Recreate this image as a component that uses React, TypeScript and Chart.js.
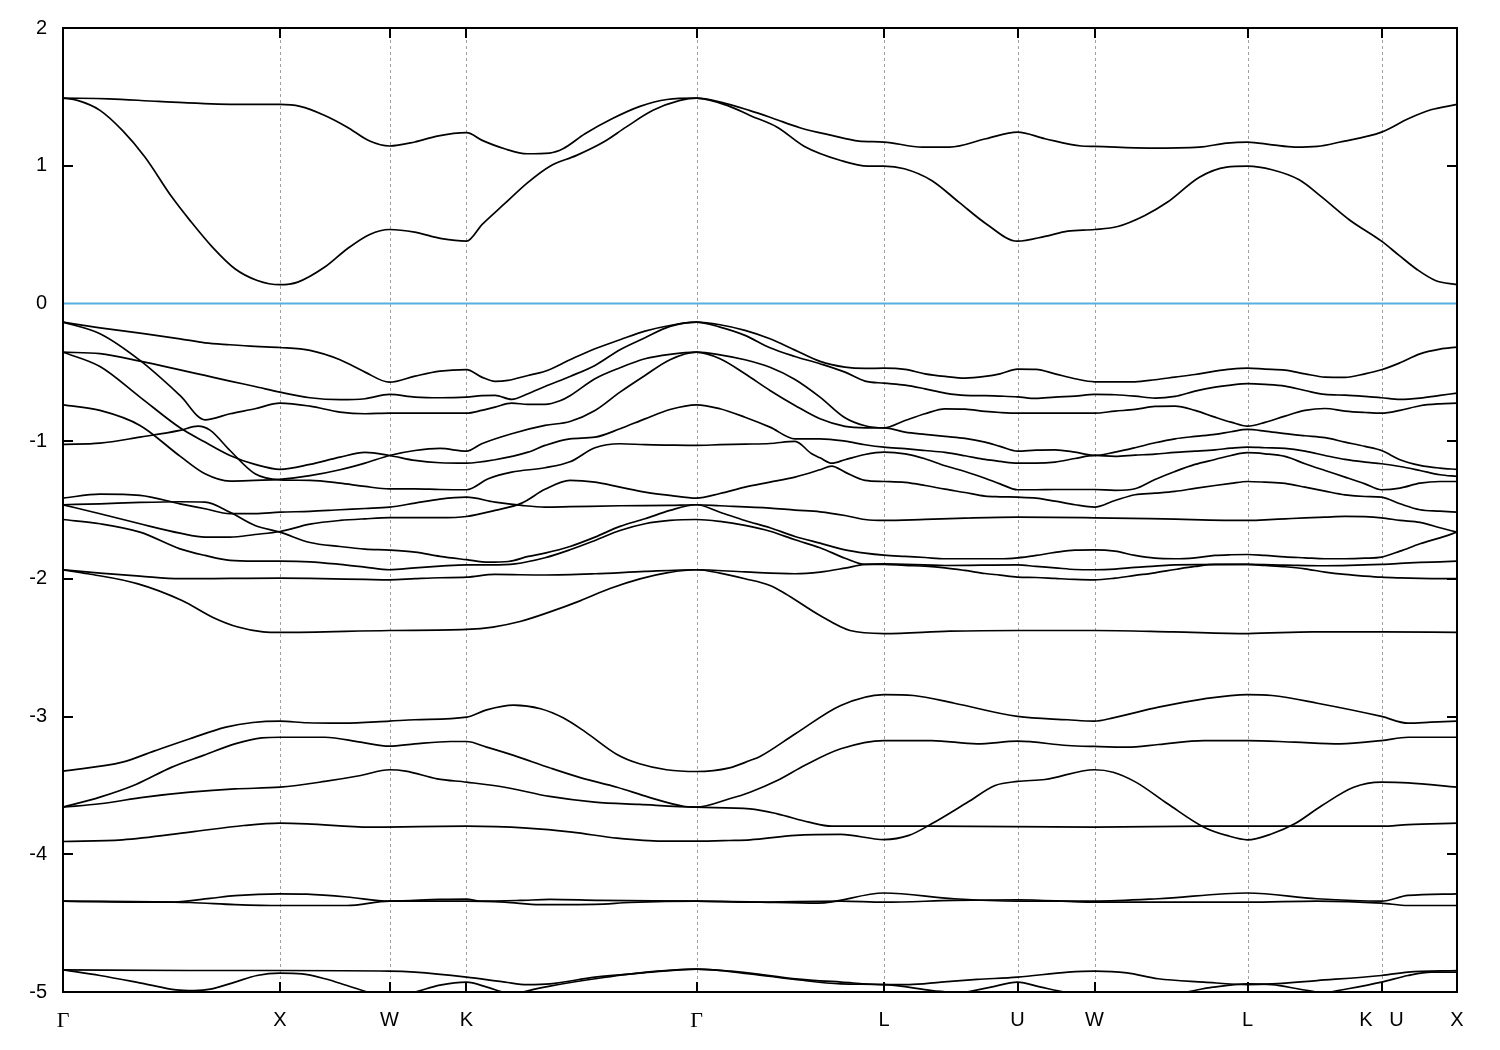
import React, { useEffect, useRef } from 'react';
import { Chart, registerables } from 'chart.js';

Chart.register(...registerables);

// k-path positions (path distance, arbitrary units) of the high-symmetry points
const kTicks = [0, 217, 326.5, 403.5, 633.5, 821, 954.5, 1031.5, 1184.5, 1318.5, 1394];
const kLabels = ['Γ', 'X', 'W', 'K', 'Γ', 'L', 'U', 'W', 'L', 'K   U', 'X'];
const energyMin = -5;
const energyMax = 2;
const fermiLevel = 0;

// bands: [k, E (eV)]
const conductionUpper = [[0,1.491],[46,1.486],[95.4,1.467],[171.9,1.445],[217,1.445],[237,1.431],[261.8,1.365],[284.3,1.280],[306.7,1.179],[326.5,1.143],[351.7,1.172],[374.2,1.215],[403.5,1.240],[419.2,1.184],[441.6,1.123],[464.1,1.087],[486.6,1.092],[500,1.123],[522,1.232],[549,1.341],[577,1.431],[604,1.481],[633.5,1.491],[657.5,1.462],[687,1.40],[709.7,1.345],[736.9,1.276],[768.7,1.220],[795.9,1.179],[821,1.172],[859.5,1.135],[886.7,1.135],[923,1.196],[954.5,1.244],[982,1.196],[1018.4,1.143],[1031.5,1.140],[1086.5,1.128],[1136.4,1.135],[1163.6,1.164],[1184.5,1.172],[1209,1.152],[1231.7,1.135],[1254.4,1.140],[1277.1,1.172],[1318.5,1.244],[1345.2,1.341],[1367.9,1.406],[1394,1.445]];
const conductionLower = [[0,1.491],[14.5,1.474],[37,1.402],[59.4,1.256],[81.9,1.063],[108.9,0.772],[126.9,0.603],[149.4,0.409],[171.9,0.252],[194.3,0.167],[217,0.136],[234.8,0.155],[261.8,0.264],[284.3,0.397],[306.7,0.501],[326.5,0.537],[351.7,0.518],[378.7,0.470],[403.5,0.452],[419.2,0.574],[441.6,0.724],[464.1,0.874],[486.6,0.995],[513.6,1.075],[540.6,1.172],[563,1.280],[590,1.402],[617,1.474],[633.5,1.491],[666.5,1.431],[687,1.365],[714.2,1.280],[741.5,1.140],[777.8,1.038],[805,0.997],[821,0.997],[841.3,0.978],[868.6,0.893],[895.8,0.736],[923,0.579],[954.5,0.452],[982,0.487],[1004.7,0.525],[1031.5,0.537],[1054.7,0.559],[1081.9,0.639],[1104.6,0.736],[1136.4,0.917],[1163.6,0.990],[1184.5,0.997],[1209,0.971],[1236.2,0.898],[1258.9,0.772],[1286.2,0.608],[1318.5,0.452],[1336.1,0.349],[1354.3,0.245],[1372.4,0.167],[1394,0.136]];

const valence1 = [[0,-0.136],[37,-0.177],[77,-0.216],[117,-0.257],[142,-0.286],[167,-0.300],[192,-0.312],[217,-0.320],[247,-0.341],[277,-0.409],[302,-0.499],[326.5,-0.572],[352,-0.528],[377,-0.492],[403.5,-0.481],[418.7,-0.535],[432,-0.566],[445,-0.559],[465,-0.523],[482,-0.493],[507,-0.409],[532,-0.329],[557,-0.264],[582,-0.201],[607,-0.160],[633.5,-0.136],[657,-0.155],[682,-0.196],[707,-0.257],[732,-0.339],[757,-0.421],[782,-0.463],[802,-0.472],[821,-0.470],[842,-0.479],[862,-0.511],[882,-0.530],[902,-0.542],[922,-0.530],[937,-0.511],[954.5,-0.477],[973,-0.479],[992,-0.511],[1012,-0.547],[1031.5,-0.569],[1052,-0.569],[1072,-0.569],[1092,-0.554],[1112,-0.535],[1132,-0.516],[1152,-0.492],[1168,-0.477],[1184.5,-0.470],[1202,-0.477],[1222,-0.484],[1242,-0.511],[1262,-0.535],[1282,-0.537],[1302,-0.511],[1318.5,-0.482],[1337,-0.431],[1357,-0.366],[1377,-0.332],[1394,-0.317]];
const valence2 = [[0,-0.136],[37,-0.220],[77,-0.414],[117,-0.668],[142,-0.845],[167,-0.801],[192,-0.765],[217,-0.724],[247,-0.746],[277,-0.789],[302,-0.801],[326.5,-0.797],[352,-0.797],[377,-0.797],[403.5,-0.797],[418.7,-0.777],[432,-0.753],[448.7,-0.724],[465,-0.733],[482,-0.733],[497,-0.707],[507,-0.670],[532,-0.547],[557,-0.467],[582,-0.402],[607,-0.370],[633.5,-0.354],[657,-0.373],[682,-0.409],[707,-0.463],[732,-0.552],[757,-0.680],[782,-0.830],[802,-0.888],[821,-0.903],[842,-0.850],[862,-0.801],[882,-0.765],[902,-0.767],[922,-0.784],[937,-0.792],[954.5,-0.797],[973,-0.797],[992,-0.797],[1012,-0.797],[1031.5,-0.797],[1052,-0.782],[1072,-0.770],[1092,-0.748],[1112,-0.746],[1132,-0.777],[1152,-0.826],[1168,-0.862],[1184.5,-0.891],[1202,-0.864],[1222,-0.818],[1242,-0.777],[1262,-0.763],[1282,-0.782],[1302,-0.792],[1318.5,-0.797],[1337,-0.777],[1357,-0.743],[1377,-0.729],[1394,-0.724]];
const valence3 = [[0,-0.354],[37,-0.365],[77,-0.419],[117,-0.482],[142,-0.523],[167,-0.564],[192,-0.603],[217,-0.644],[247,-0.685],[277,-0.699],[302,-0.692],[326.5,-0.661],[352,-0.680],[377,-0.685],[403.5,-0.680],[418.7,-0.670],[432,-0.668],[448.7,-0.697],[465,-0.656],[482,-0.603],[507,-0.530],[532,-0.450],[557,-0.336],[582,-0.249],[607,-0.167],[633.5,-0.136],[657,-0.172],[682,-0.232],[707,-0.322],[732,-0.385],[757,-0.438],[782,-0.499],[802,-0.564],[821,-0.579],[842,-0.593],[862,-0.620],[882,-0.651],[902,-0.668],[922,-0.670],[937,-0.673],[954.5,-0.678],[973,-0.690],[992,-0.680],[1012,-0.673],[1031.5,-0.661],[1052,-0.663],[1072,-0.673],[1092,-0.688],[1112,-0.675],[1132,-0.637],[1152,-0.608],[1168,-0.593],[1184.5,-0.583],[1202,-0.588],[1222,-0.600],[1242,-0.632],[1262,-0.661],[1282,-0.666],[1302,-0.675],[1318.5,-0.685],[1337,-0.697],[1357,-0.688],[1377,-0.668],[1394,-0.651]];
const valence4 = [[0,-0.354],[37,-0.458],[77,-0.680],[117,-0.903],[142,-1.007],[167,-1.104],[192,-1.169],[217,-1.205],[247,-1.169],[277,-1.116],[302,-1.082],[326.5,-1.104],[352,-1.140],[377,-1.157],[403.5,-1.160],[432,-1.135],[465,-1.080],[482,-1.031],[507,-0.983],[532,-0.971],[557,-0.910],[582,-0.838],[607,-0.770],[633.5,-0.736],[657,-0.765],[682,-0.826],[707,-0.898],[732,-0.983],[757,-0.983],[782,-1.000],[802,-1.026],[821,-1.044],[842,-1.055],[862,-1.068],[882,-1.082],[902,-1.106],[922,-1.133],[937,-1.147],[954.5,-1.160],[973,-1.160],[992,-1.152],[1012,-1.126],[1031.5,-1.104],[1052,-1.111],[1072,-1.102],[1092,-1.094],[1112,-1.082],[1132,-1.073],[1152,-1.063],[1168,-1.051],[1184.5,-1.043],[1202,-1.048],[1222,-1.053],[1242,-1.073],[1262,-1.104],[1282,-1.133],[1302,-1.152],[1318.5,-1.164],[1337,-1.184],[1357,-1.213],[1377,-1.244],[1394,-1.256]];
const valence5 = [[0,-0.736],[37,-0.777],[77,-0.886],[117,-1.109],[142,-1.237],[167,-1.290],[192,-1.285],[217,-1.278],[247,-1.251],[277,-1.208],[302,-1.160],[326.5,-1.104],[352,-1.068],[377,-1.053],[403.5,-1.073],[418.7,-1.019],[448.7,-0.946],[482,-0.886],[507,-0.857],[532,-0.777],[557,-0.644],[582,-0.523],[607,-0.409],[633.5,-0.354],[657,-0.402],[682,-0.511],[707,-0.632],[732,-0.741],[757,-0.838],[782,-0.893],[802,-0.903],[821,-0.903],[842,-0.934],[862,-0.951],[882,-0.966],[902,-0.980],[922,-1.007],[937,-1.038],[954.5,-1.073],[973,-1.065],[992,-1.063],[1012,-1.080],[1031.5,-1.104],[1052,-1.080],[1072,-1.048],[1092,-1.012],[1112,-0.983],[1132,-0.966],[1152,-0.951],[1168,-0.932],[1184.5,-0.915],[1202,-0.927],[1222,-0.946],[1242,-0.961],[1262,-0.975],[1282,-1.007],[1302,-1.038],[1318.5,-1.068],[1337,-1.135],[1357,-1.176],[1377,-1.196],[1394,-1.205]];
const valence6 = [[0,-1.024],[37,-1.015],[77,-0.971],[117,-0.922],[135,-0.891],[147,-0.920],[167,-1.068],[192,-1.237],[217,-1.281],[247,-1.285],[277,-1.305],[302,-1.329],[326.5,-1.346],[352,-1.346],[377,-1.351],[403.5,-1.353],[425.3,-1.273],[448.7,-1.225],[482,-1.193],[507,-1.150],[532,-1.048],[557,-1.019],[582,-1.026],[607,-1.029],[633.5,-1.031],[657,-1.026],[682,-1.022],[707,-1.017],[732,-1.002],[748.7,-1.092],[757,-1.121],[768.7,-1.160],[782,-1.135],[802,-1.097],[821,-1.080],[842,-1.092],[862,-1.128],[882,-1.179],[902,-1.220],[922,-1.269],[937,-1.310],[954.5,-1.353],[973,-1.353],[992,-1.351],[1012,-1.351],[1031.5,-1.351],[1052,-1.358],[1072,-1.346],[1092,-1.278],[1112,-1.220],[1132,-1.169],[1152,-1.133],[1168,-1.104],[1184.5,-1.084],[1202,-1.092],[1222,-1.111],[1242,-1.164],[1262,-1.213],[1282,-1.261],[1302,-1.310],[1318.5,-1.353],[1337,-1.341],[1357,-1.305],[1377,-1.293],[1394,-1.293]];
const valence7 = [[0,-1.414],[37,-1.385],[77,-1.394],[117,-1.455],[142,-1.491],[167,-1.527],[192,-1.527],[217,-1.516],[247,-1.510],[277,-1.498],[302,-1.489],[326.5,-1.479],[352,-1.450],[377,-1.421],[403.5,-1.407],[432,-1.443],[458.7,-1.467],[482,-1.479],[507,-1.476],[557,-1.469],[607,-1.466],[633.5,-1.462],[657,-1.469],[707,-1.486],[732,-1.501],[757,-1.513],[782,-1.540],[802,-1.569],[821,-1.576],[862,-1.568],[902,-1.559],[954.5,-1.552],[1031.5,-1.557],[1100,-1.565],[1184.5,-1.576],[1202,-1.571],[1222,-1.564],[1242,-1.557],[1262,-1.552],[1282,-1.547],[1318.5,-1.557],[1337,-1.576],[1357,-1.590],[1377,-1.629],[1394,-1.661]];
const valence8 = [[0,-1.462],[37,-1.455],[77,-1.445],[117,-1.440],[142,-1.443],[167,-1.516],[192,-1.612],[217,-1.661],[247,-1.736],[277,-1.765],[302,-1.784],[326.5,-1.791],[352,-1.806],[377,-1.837],[403.5,-1.861],[425.3,-1.879],[445.3,-1.874],[465.3,-1.837],[482,-1.813],[507,-1.765],[532,-1.697],[557,-1.619],[582,-1.564],[607,-1.503],[633.5,-1.462],[657,-1.516],[682,-1.576],[707,-1.629],[732,-1.692],[757,-1.741],[782,-1.789],[802,-1.813],[821,-1.828],[842,-1.837],[862,-1.845],[882,-1.854],[937,-1.854],[954.5,-1.847],[973,-1.830],[992,-1.808],[1012,-1.791],[1031.5,-1.789],[1052,-1.799],[1072,-1.830],[1092,-1.850],[1112,-1.854],[1132,-1.847],[1152,-1.830],[1168,-1.825],[1184.5,-1.823],[1202,-1.830],[1222,-1.840],[1242,-1.847],[1262,-1.854],[1282,-1.854],[1302,-1.850],[1318.5,-1.842],[1337,-1.799],[1357,-1.745],[1377,-1.702],[1394,-1.661]];
const valence9 = [[0,-1.462],[37,-1.527],[77,-1.600],[117,-1.668],[142,-1.697],[167,-1.697],[192,-1.678],[217,-1.656],[247,-1.603],[277,-1.576],[302,-1.564],[326.5,-1.556],[352,-1.556],[377,-1.556],[403.5,-1.547],[432,-1.503],[458.7,-1.450],[482,-1.350],[507,-1.285],[532,-1.298],[557,-1.334],[582,-1.370],[607,-1.394],[633.5,-1.414],[657,-1.380],[682,-1.334],[707,-1.298],[732,-1.261],[757,-1.208],[768.7,-1.181],[782,-1.225],[802,-1.285],[821,-1.293],[842,-1.300],[862,-1.322],[882,-1.349],[902,-1.373],[922,-1.399],[937,-1.404],[954.5,-1.407],[973,-1.414],[992,-1.436],[1012,-1.462],[1031.5,-1.479],[1052,-1.431],[1072,-1.389],[1092,-1.378],[1112,-1.365],[1132,-1.343],[1152,-1.322],[1168,-1.307],[1184.5,-1.293],[1202,-1.298],[1222,-1.307],[1242,-1.334],[1262,-1.363],[1282,-1.390],[1302,-1.402],[1318.5,-1.407],[1337,-1.455],[1357,-1.498],[1377,-1.508],[1394,-1.516]];
const valence10 = [[0,-1.569],[37,-1.600],[77,-1.661],[117,-1.782],[142,-1.830],[167,-1.866],[192,-1.871],[217,-1.871],[247,-1.876],[277,-1.895],[302,-1.915],[326.5,-1.934],[352,-1.920],[377,-1.908],[403.5,-1.898],[427,-1.898],[452,-1.891],[482,-1.847],[507,-1.789],[532,-1.721],[557,-1.649],[582,-1.600],[607,-1.576],[633.5,-1.569],[657,-1.583],[682,-1.612],[707,-1.654],[732,-1.716],[757,-1.774],[782,-1.850],[802,-1.895],[821,-1.895],[842,-1.903],[862,-1.908],[882,-1.920],[902,-1.939],[922,-1.961],[937,-1.973],[954.5,-1.988],[973,-1.990],[992,-1.997],[1012,-2.004],[1031.5,-2.007],[1052,-1.995],[1072,-1.975],[1092,-1.956],[1112,-1.932],[1132,-1.910],[1152,-1.895],[1184.5,-1.895],[1202,-1.903],[1222,-1.912],[1242,-1.927],[1262,-1.951],[1282,-1.968],[1302,-1.980],[1318.5,-1.988],[1337,-1.993],[1357,-1.997],[1377,-1.999],[1394,-1.999]];
const valence11 = [[0,-1.934],[37,-1.958],[77,-1.980],[117,-1.999],[167,-1.997],[217,-1.995],[247,-1.997],[302,-2.004],[326.5,-2.007],[352,-1.999],[377,-1.992],[403.5,-1.988],[432,-1.968],[482,-1.972],[532,-1.963],[582,-1.946],[633.5,-1.934],[682,-1.950],[732,-1.963],[757,-1.951],[782,-1.922],[802,-1.895],[821,-1.891],[882,-1.903],[954.5,-1.898],[973,-1.910],[992,-1.920],[1012,-1.932],[1031.5,-1.934],[1052,-1.929],[1072,-1.917],[1092,-1.908],[1112,-1.898],[1184.5,-1.895],[1222,-1.900],[1262,-1.905],[1318.5,-1.895],[1337,-1.888],[1357,-1.881],[1377,-1.876],[1394,-1.871]];
const valence12 = [[0,-1.934],[25,-1.963],[75,-2.036],[119,-2.157],[150,-2.280],[175,-2.350],[200,-2.385],[217,-2.389],[326.5,-2.375],[403.5,-2.367],[430,-2.350],[457,-2.310],[487,-2.240],[517,-2.160],[547,-2.070],[577,-2.000],[605,-1.955],[633.5,-1.934],[657,-1.958],[682,-1.999],[707,-2.048],[722,-2.106],[757,-2.266],[787,-2.375],[821,-2.397],[887,-2.380],[954.5,-2.375],[1031.5,-2.375],[1110,-2.385],[1184.5,-2.397],[1250,-2.385],[1318.5,-2.385],[1394,-2.389]];

const deep1 = [[0,-3.396],[59.4,-3.331],[90.9,-3.251],[126.9,-3.161],[162.9,-3.077],[189.8,-3.043],[217,-3.033],[243.8,-3.045],[279.8,-3.048],[326.5,-3.033],[351.7,-3.023],[403.5,-3.004],[423.7,-2.951],[450.6,-2.917],[477.6,-2.943],[500.1,-3.009],[522.6,-3.113],[554,-3.275],[576.5,-3.343],[603.5,-3.386],[633.5,-3.399],[666.5,-3.372],[687,-3.319],[697,-3.290],[732.4,-3.125],[777.8,-2.919],[821,-2.840],[850.4,-2.847],[891.3,-2.903],[954.5,-2.999],[1004.7,-3.023],[1031.5,-3.033],[1050.1,-3.009],[1095.5,-2.932],[1140.9,-2.871],[1184.5,-2.840],[1209,-2.847],[1254.4,-2.903],[1318.5,-2.999],[1345.2,-3.048],[1367.9,-3.041],[1394,-3.033]];
const deep2 = [[0,-3.658],[37,-3.585],[72.9,-3.493],[108.9,-3.367],[140.4,-3.282],[171.9,-3.198],[198.8,-3.154],[217,-3.150],[261.8,-3.150],[297.7,-3.186],[326.5,-3.215],[351.7,-3.198],[387.7,-3.181],[403.5,-3.181],[423.7,-3.222],[450.6,-3.282],[486.6,-3.372],[518.1,-3.445],[554,-3.513],[585.5,-3.585],[621.5,-3.653],[633.5,-3.658],[666.5,-3.597],[687,-3.549],[714.2,-3.464],[741.5,-3.355],[777.8,-3.234],[821,-3.174],[868.6,-3.174],[914,-3.198],[954.8,-3.179],[1004.7,-3.210],[1031.5,-3.217],[1063.8,-3.222],[1095.5,-3.203],[1140.9,-3.174],[1184.5,-3.174],[1231.7,-3.186],[1277.1,-3.198],[1318.5,-3.174],[1345.2,-3.150],[1394,-3.150]];
const deep3 = [[0,-3.658],[37,-3.633],[81.9,-3.585],[126.9,-3.549],[171.9,-3.525],[217,-3.513],[261.8,-3.471],[297.7,-3.428],[326.5,-3.386],[342.7,-3.396],[374.2,-3.452],[403.5,-3.476],[441.6,-3.513],[486.6,-3.580],[531.6,-3.621],[576.5,-3.638],[633.5,-3.658],[687,-3.670],[714.2,-3.706],[746,-3.767],[768.7,-3.796],[868.6,-3.796],[1031.5,-3.803],[1140.9,-3.796],[1318.5,-3.796],[1345.2,-3.784],[1394,-3.774]];
const deep4 = [[0,-3.907],[59.4,-3.895],[126.9,-3.839],[180.8,-3.791],[217,-3.774],[243.8,-3.779],[306.7,-3.803],[403.5,-3.796],[464.1,-3.810],[509.1,-3.839],[554,-3.883],[599,-3.905],[633.5,-3.905],[666.5,-3.900],[687,-3.895],[732.4,-3.863],[777.8,-3.856],[821,-3.893],[845.9,-3.863],[868.6,-3.779],[904.9,-3.621],[932.1,-3.500],[954.5,-3.471],[982,-3.457],[1031.5,-3.386],[1050.1,-3.404],[1072.8,-3.476],[1104.6,-3.633],[1140.9,-3.803],[1163.6,-3.863],[1184.5,-3.895],[1209,-3.851],[1231.7,-3.779],[1259,-3.646],[1290.7,-3.513],[1318.5,-3.476],[1345.2,-3.481],[1394,-3.513]];

const semicore1 = [[0,-4.340],[107,-4.348],[147,-4.320],[172,-4.300],[217,-4.287],[244,-4.290],[284,-4.310],[326.5,-4.340],[377,-4.328],[403.5,-4.325],[417,-4.340],[457,-4.335],[487,-4.328],[537,-4.335],[633.5,-4.340],[687,-4.345],[755,-4.355],[821,-4.281],[891,-4.323],[954.5,-4.340],[1031.5,-4.340],[1095,-4.323],[1184.5,-4.281],[1254,-4.323],[1318.5,-4.340],[1345,-4.299],[1394,-4.287]];
const semicore2 = [[0,-4.340],[127,-4.350],[172,-4.365],[217,-4.372],[284,-4.372],[326.5,-4.340],[403.5,-4.340],[442,-4.348],[477,-4.365],[532,-4.363],[567,-4.350],[633.5,-4.340],[687,-4.348],[778,-4.340],[821,-4.348],[891,-4.335],[954.5,-4.330],[1031.5,-4.348],[1095,-4.348],[1184.5,-4.348],[1254,-4.340],[1318.5,-4.355],[1345,-4.372],[1394,-4.372]];
const lowest1 = [[0,-4.839],[127,-4.844],[217,-4.844],[326.5,-4.848],[352,-4.856],[403.5,-4.892],[442,-4.928],[464,-4.946],[487,-4.941],[532,-4.892],[577,-4.863],[633.5,-4.834],[667,-4.848],[687,-4.863],[732,-4.904],[778,-4.928],[821,-4.946],[846,-4.946],[878,-4.928],[914,-4.909],[954.5,-4.892],[1005,-4.856],[1031.5,-4.848],[1064,-4.861],[1095,-4.904],[1141,-4.928],[1184.5,-4.946],[1209,-4.941],[1254,-4.917],[1318.5,-4.880],[1345,-4.856],[1394,-4.844]];
const lowest2 = [[0,-4.839],[37,-4.880],[82,-4.941],[113,-4.984],[131,-4.989],[149,-4.977],[172,-4.928],[194,-4.880],[217,-4.863],[239,-4.868],[262,-4.904],[284,-4.953],[307,-5.006],[326.5,-5.040],[352,-5.000],[377,-4.950],[403.5,-4.928],[424,-4.965],[442,-5.006],[452,-5.020],[460,-5.000],[487,-4.957],[532,-4.904],[577,-4.861],[633.5,-4.834],[687,-4.868],[732,-4.909],[778,-4.941],[821,-4.946],[869,-4.989],[891,-5.006],[896,-5.012],[900,-5.006],[928,-4.965],[954.5,-4.928],[978,-4.965],[1005,-5.006],[1031.5,-5.040],[1067,-5.050],[1097,-5.030],[1123,-5.000],[1150,-4.965],[1184.5,-4.941],[1209,-4.946],[1237,-4.980],[1254,-5.000],[1261,-5.010],[1268,-5.000],[1318.5,-4.928],[1345,-4.880],[1368,-4.856],[1394,-4.856]];

const allBands = [
  conductionUpper, conductionLower,
  valence1, valence2, valence3, valence4, valence5, valence6,
  valence7, valence8, valence9, valence10, valence11, valence12,
  deep1, deep2, deep3, deep4, semicore1, semicore2, lowest1, lowest2,
];

const SANS = "'Liberation Sans', Arial, 'DejaVu Sans', sans-serif";
const SERIF = "'Liberation Serif', 'DejaVu Serif', serif";

const framePlugin = {
  id: 'bandFrame',
  beforeDatasetsDraw(chart: any) {
    const { ctx, chartArea: a, scales } = chart;
    const xs = scales.x;
    ctx.save();
    ctx.strokeStyle = '#a0a0a0';
    ctx.lineWidth = 1;
    ctx.setLineDash([3, 3]);
    kTicks.forEach((k, i) => {
      if (i === 0 || i === kTicks.length - 1) return;
      const px = Math.round(xs.getPixelForValue(k)) + 0.5;
      ctx.beginPath();
      ctx.moveTo(px, a.top);
      ctx.lineTo(px, a.bottom);
      ctx.stroke();
    });
    ctx.restore();
  },
  afterDatasetsDraw(chart: any) {
    const { ctx, chartArea: a, scales } = chart;
    const xs = scales.x;
    const ys = scales.y;
    const tl = 10;
    ctx.save();
    ctx.strokeStyle = '#000';
    ctx.lineWidth = 2;
    ctx.setLineDash([]);
    kTicks.forEach((k) => {
      const px = Math.round(xs.getPixelForValue(k));
      ctx.beginPath();
      ctx.moveTo(px, a.bottom);
      ctx.lineTo(px, a.bottom - tl);
      ctx.moveTo(px, a.top);
      ctx.lineTo(px, a.top + tl);
      ctx.stroke();
    });
    for (let e = energyMin; e <= energyMax; e++) {
      if (e === fermiLevel) continue;
      const py = Math.round(ys.getPixelForValue(e));
      ctx.beginPath();
      ctx.moveTo(a.left, py);
      ctx.lineTo(a.left + tl, py);
      ctx.moveTo(a.right, py);
      ctx.lineTo(a.right - tl, py);
      ctx.stroke();
    }
    ctx.strokeRect(Math.round(a.left), Math.round(a.top), Math.round(a.right - a.left), Math.round(a.bottom - a.top));
    ctx.restore();
  },
};

export default function App() {
  const ref = useRef<HTMLCanvasElement>(null);
  useEffect(() => {
    if (!ref.current) return;
    const datasets: any[] = allBands.map((band) => ({
      data: band.map(([k, e]) => ({ x: k, y: e })),
      borderColor: '#000000',
      borderWidth: 1.7,
      pointRadius: 0,
      fill: false,
      cubicInterpolationMode: 'monotone',
      clip: 0,
    }));
    datasets.push({
      data: [{ x: kTicks[0], y: fermiLevel }, { x: kTicks[kTicks.length - 1], y: fermiLevel }],
      borderColor: '#56aee2',
      borderWidth: 2,
      pointRadius: 0,
      fill: false,
      clip: 0,
    });
    const chart = new Chart(ref.current, {
      type: 'line',
      data: { datasets },
      options: {
        animation: false,
        responsive: false,
        devicePixelRatio: 1,
        events: [],
        layout: { padding: { left: 0, top: 28, right: 43, bottom: 0 } },
        plugins: { legend: { display: false }, tooltip: { enabled: false } },
        scales: {
          x: {
            type: 'linear',
            min: kTicks[0],
            max: kTicks[kTicks.length - 1],
            afterBuildTicks: (scale: any) => {
              scale.ticks = kTicks.map((v) => ({ value: v }));
            },
            afterFit: (scale: any) => {
              scale.height = 58;
            },
            grid: { display: false, drawTicks: false },
            border: { display: false },
            ticks: {
              autoSkip: false,
              maxRotation: 0,
              padding: 16,
              color: '#000',
              callback: (_v: any, i: number) => kLabels[i],
              font: (c: any) =>
                c.tick && c.tick.label === 'Γ'
                  ? { family: SERIF, size: 22 }
                  : { family: SANS, size: 20 },
            },
          },
          y: {
            type: 'linear',
            min: energyMin,
            max: energyMax,
            afterFit: (scale: any) => {
              scale.width = 63;
            },
            grid: { display: false, drawTicks: false },
            border: { display: false },
            ticks: {
              stepSize: 1,
              padding: 16,
              color: '#000',
              font: { family: SANS, size: 20 },
              callback: (v: any) => String(v),
            },
          },
        },
      },
      plugins: [framePlugin],
    } as any);
    return () => chart.destroy();
  }, []);
  return (
    <div style={{ position: 'absolute', left: 0, top: 0, width: 1500, height: 1050, background: '#fff' }}>
      <canvas ref={ref} width={1500} height={1050} style={{ display: 'block', width: 1500, height: 1050 }} />
    </div>
  );
}
